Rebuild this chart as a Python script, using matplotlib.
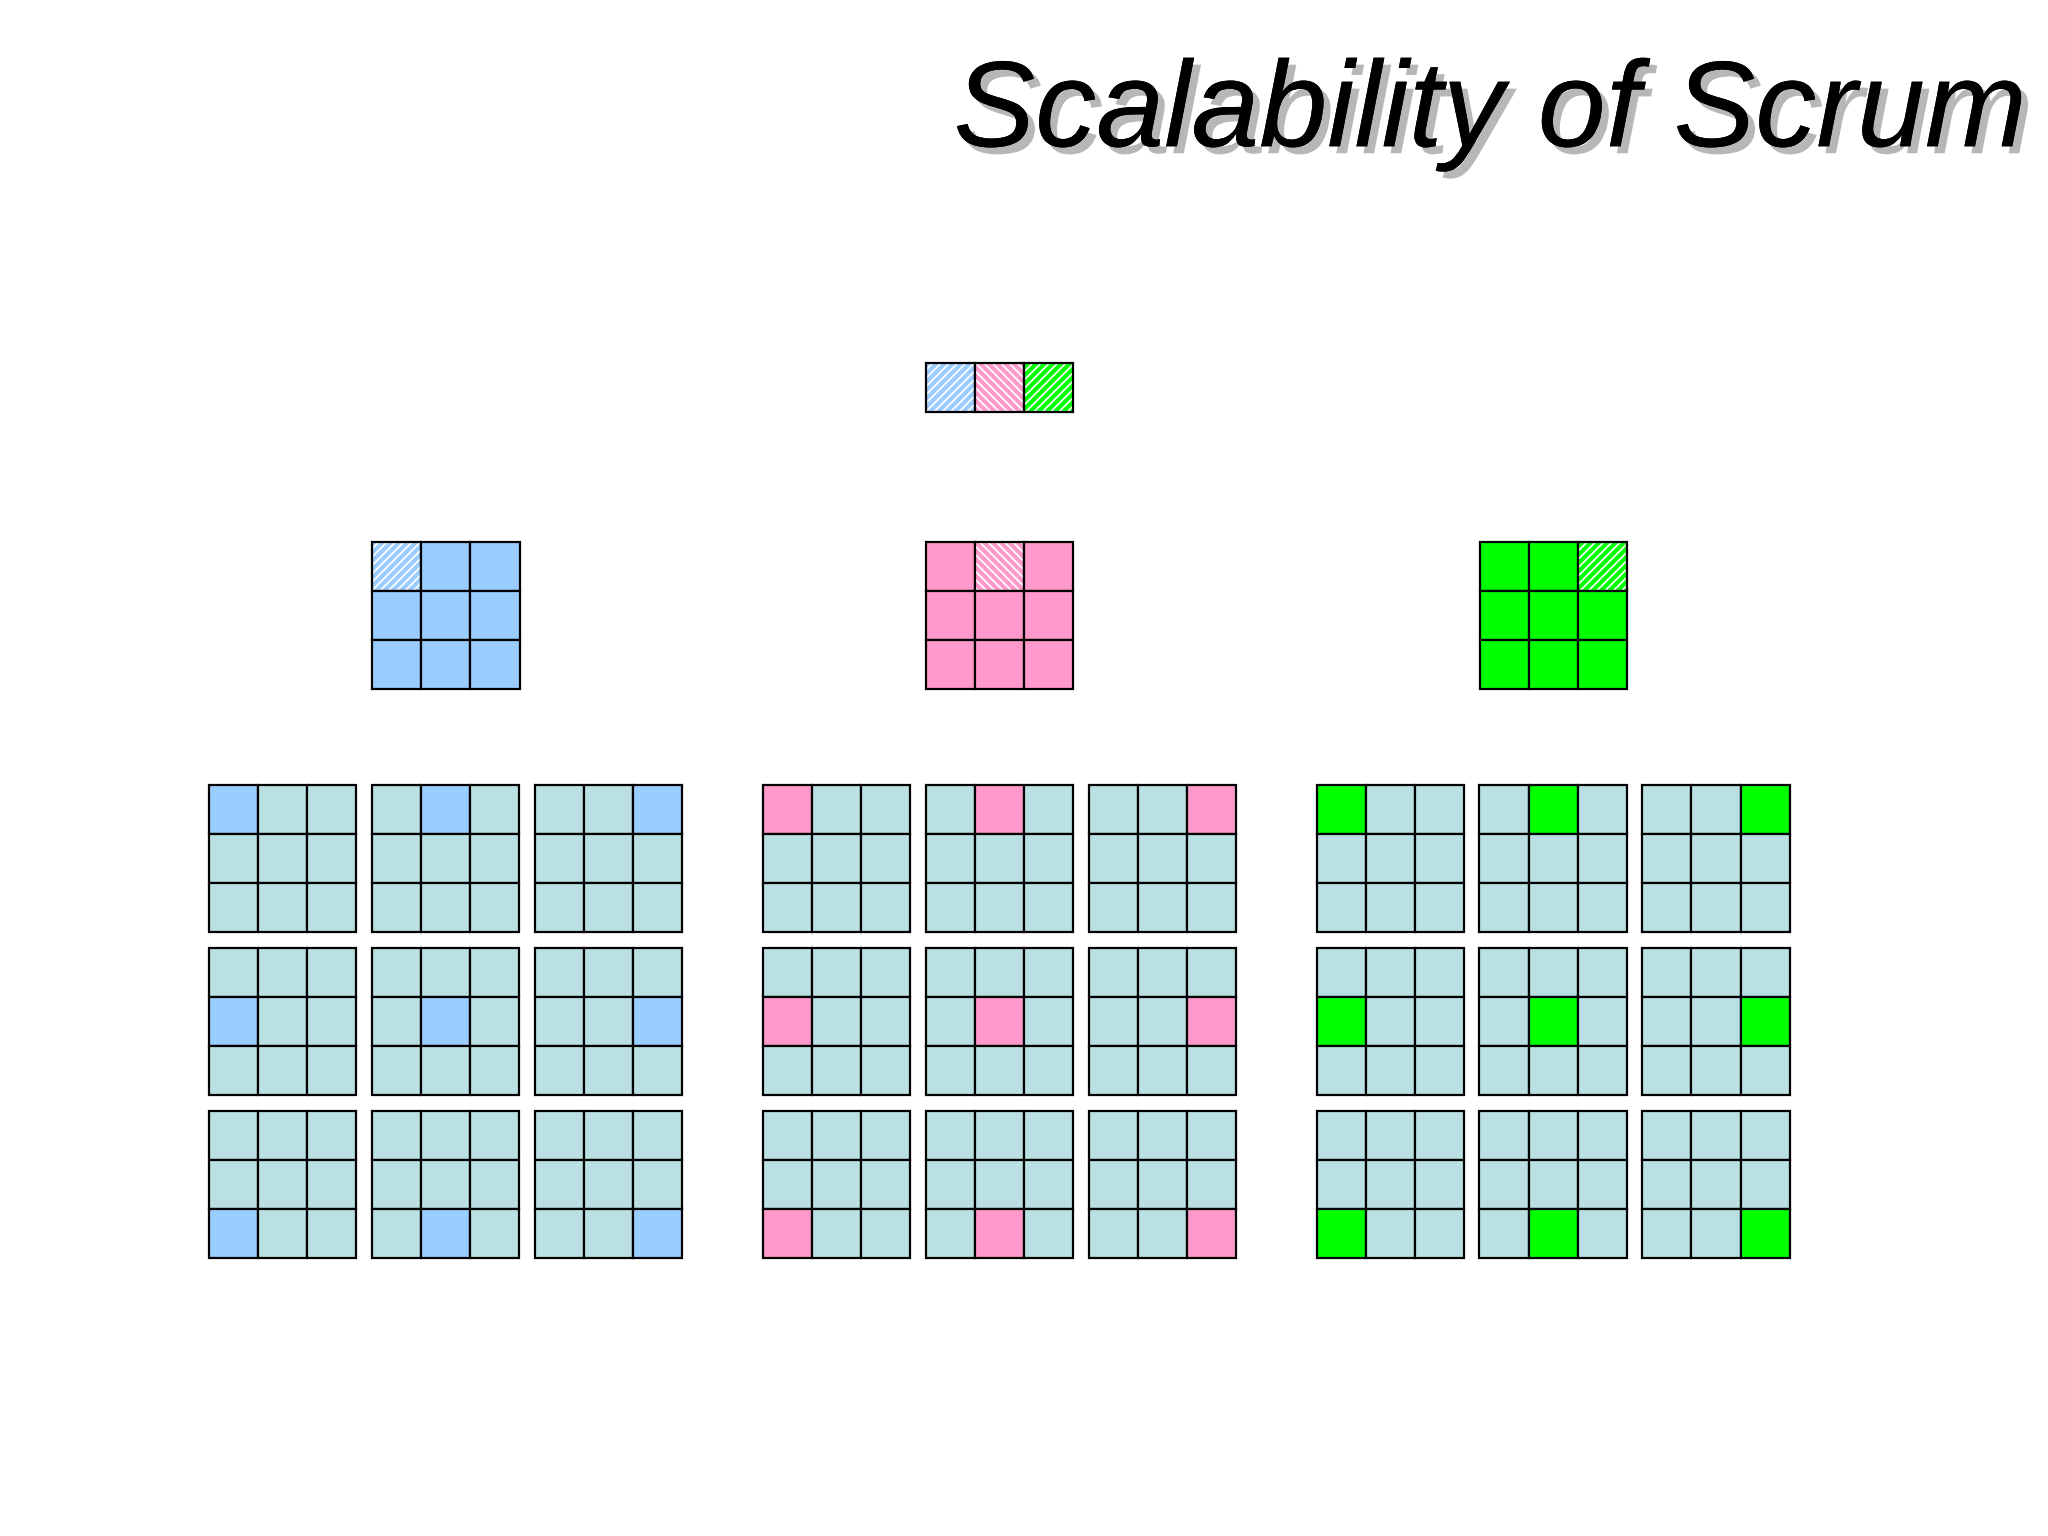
import matplotlib.pyplot as plt
from matplotlib.patches import Rectangle
import matplotlib.patheffects as pe

# Team colours (one per group) and the hatch direction of each
team_colors = ["#99CCFF", "#FF99CC", "#00FF00"]
team_hatch = ["////", "\\\\\\\\", "////"]
base_color = "#BBE0E3"

# Which cell of each middle 3x3 grid is hatched (row, col)
mid_hatched = [(0, 0), (0, 1), (0, 2)]

W, H = 1568, 1176
cell = 37.6
plt.rcParams["hatch.linewidth"] = 3

fig = plt.figure(figsize=(20.48, 15.36), dpi=100)
ax = fig.add_axes([0, 0, 1, 1])
ax.set_xlim(0, W)
ax.set_ylim(H, 0)
ax.axis("off")


def draw_cell(x, y, face, hatch=None, hcolor=None):
    if hatch:
        ax.add_patch(Rectangle((x, y), cell, cell, facecolor="white",
                               edgecolor=hcolor, hatch=hatch, lw=0))
        ax.add_patch(Rectangle((x, y), cell, cell, facecolor="none",
                               edgecolor="black", lw=1.6))
    else:
        ax.add_patch(Rectangle((x, y), cell, cell, facecolor=face,
                               edgecolor="black", lw=1.6))


# Top strip: one hatched cell per team
for i, c in enumerate(team_colors):
    draw_cell(709 + i * cell, 278, None, team_hatch[i], c)

# Middle: one 3x3 grid per team
mid_x = [285, 709, 1133]
for t, c in enumerate(team_colors):
    for r in range(3):
        for k in range(3):
            if (r, k) == mid_hatched[t]:
                draw_cell(mid_x[t] + k * cell, 415 + r * cell, None, team_hatch[t], c)
            else:
                draw_cell(mid_x[t] + k * cell, 415 + r * cell, c)

# Bottom: 3 groups of 3x3 small grids
group_x = [160, 584, 1008]
grid_step = 124.7
for t, c in enumerate(team_colors):
    for gr in range(3):
        for gc in range(3):
            x0 = group_x[t] + gc * grid_step
            y0 = 601 + gr * grid_step
            for r in range(3):
                for k in range(3):
                    face = c if (r, k) == (gr, gc) else base_color
                    draw_cell(x0 + k * cell, y0 + r * cell, face)

ax.text(1552, 112, "Scalability of Scrum", ha="right", va="baseline",
        fontsize=88, style="italic", family="Liberation Sans",
        path_effects=[pe.withSimplePatchShadow(offset=(5, -5), shadow_rgbFace="#999999", alpha=0.7),
                      pe.Normal()])

fig.savefig("out.png")
